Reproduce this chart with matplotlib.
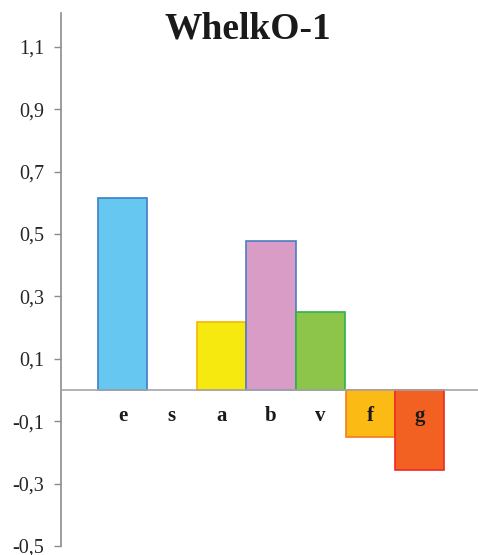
import matplotlib
matplotlib.use("Agg")
import matplotlib.pyplot as plt
import matplotlib.transforms as mtransforms

categories = ["e", "s", "a", "b", "v", "f", "g"]
values = [0.615, 0.0, 0.218, 0.478, 0.25, -0.15, -0.256]
fill_colors = ["#66C8F0", "#FFFFFF", "#F5E90F", "#D99CC6", "#8DC44A", "#FBBB14", "#F26122"]
edge_colors = ["#3E7EC6", "#FFFFFF", "#F5B800", "#4A7EC4", "#2DB34A", "#F47B20", "#EE2A24"]
ytick_values = [1.1, 0.9, 0.7, 0.5, 0.3, 0.1, -0.1, -0.3, -0.5]
ytick_labels = ["1,1", "0,9", "0,7", "0,5", "0,3", "0,1", "-0,1", "-0,3", "-0,5"]
title = "WhelkO-1"

plt.rcParams['font.family'] = ['Liberation Serif', 'DejaVu Serif']

W, H = 478, 555
fig = plt.figure(figsize=(W / 100, H / 100), dpi=100)
ax = fig.add_axes([61 / W, 1 - 546 / H, (478 - 61) / W, (546 - 13) / H])

x = list(range(len(categories)))
for xi, v, fc, ec in zip(x, values, fill_colors, edge_colors):
    if v == 0:
        continue
    ax.bar(xi, v, width=0.99, color=fc, edgecolor=ec, linewidth=1.2, zorder=2)

ax.set_xlim(-1.24, 7.18)
ax.set_ylim(-0.5, 1.208)
ax.axhline(0, color="#A6A6A6", linewidth=1.2, zorder=3)

ax.set_yticks(ytick_values)
ax.set_yticklabels(ytick_labels, fontsize=14.5, color="#262626")
ax.tick_params(axis="y", direction="out", length=5, width=1, color="#8C8C8C", pad=7)
ax.set_xticks([])

for s in ["top", "right", "bottom"]:
    ax.spines[s].set_visible(False)
ax.spines["left"].set_color("#8C8C8C")
ax.spines["left"].set_linewidth(1.2)

trans = mtransforms.blended_transform_factory(ax.transData, ax.transData)
for xi, c in zip(x, categories):
    ax.text(xi, -0.082, c, transform=trans, ha="center", va="center",
            fontsize=15, fontweight="bold", color="#1A1A1A", zorder=4)

fig.text(248 / W, 1 - 29 / H, title, ha="center", va="center",
         fontsize=27, fontweight="bold", color="#1A1A1A")

fig.savefig("out.png", dpi=100)
